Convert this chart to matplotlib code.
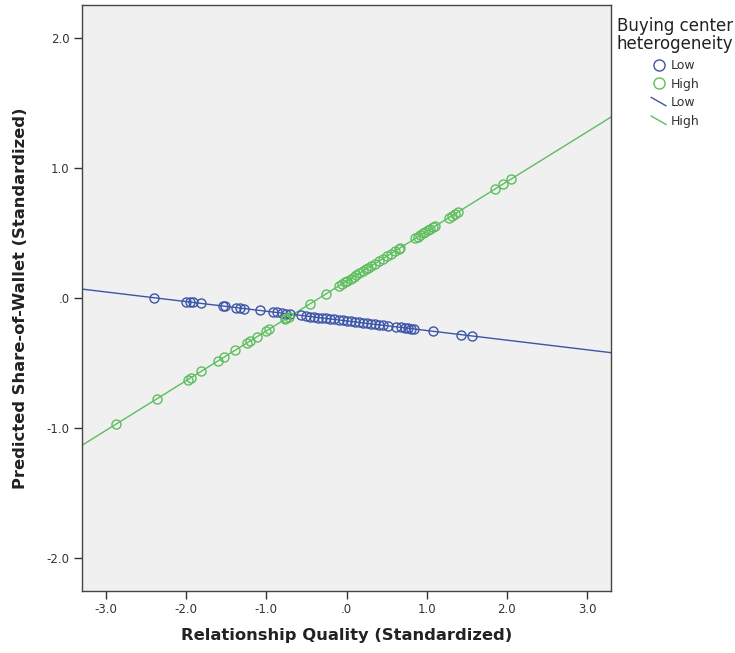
import numpy as np
import matplotlib
matplotlib.use("Agg")
import matplotlib.pyplot as plt
from matplotlib.lines import Line2D
from matplotlib.legend_handler import HandlerBase

# --- data ---
groups = ["Low", "High"]
colors = {"Low": "#3D55A8", "High": "#5DBE5D"}

# fit lines (predicted values lie on them)
fit_intercept = {"Low": -0.175, "High": 0.13}
fit_slope = {"Low": -0.074, "High": 0.382}

low_x = [-2.40, -2.00, -1.95, -1.91, -1.81, -1.54, -1.52, -1.38, -1.33, -1.28,
         -1.08, -0.92, -0.87, -0.81, -0.75, -0.71, -0.57, -0.51, -0.45, -0.40,
         -0.35, -0.30, -0.25, -0.20, -0.15, -0.10, -0.05, 0.00, 0.05, 0.10,
         0.15, 0.20, 0.25, 0.30, 0.35, 0.40, 0.46, 0.52, 0.62, 0.68, 0.73,
         0.77, 0.81, 0.84, 1.08, 1.43, 1.57]
high_x = [-2.87, -2.36, -1.98, -1.94, -1.81, -1.60, -1.53, -1.39, -1.24, -1.20,
          -1.12, -1.01, -0.97, -0.77, -0.75, -0.72, -0.45, -0.26, -0.10, -0.06,
          -0.02, 0.01, 0.05, 0.09, 0.12, 0.16, 0.20, 0.24, 0.27, 0.31, 0.35,
          0.40, 0.45, 0.50, 0.55, 0.60, 0.65, 0.67, 0.86, 0.89, 0.92, 0.96,
          0.98, 1.02, 1.04, 1.08, 1.11, 1.28, 1.32, 1.35, 1.39, 1.85, 1.95, 2.05]
points_x = {"Low": low_x, "High": high_x}

x_ticks = [-3, -2, -1, 0, 1, 2, 3]
y_ticks = [-2, -1, 0, 1, 2]


def fmt(v):
    if v == 0:
        return ".0"
    return f"{v:.1f}"


class DiagHandler(HandlerBase):
    # SPSS draws line entries as a small slanted stroke
    def create_artists(self, legend, orig_handle, xdescent, ydescent,
                       width, height, fontsize, trans):
        x0 = -xdescent + width * 0.05
        x1 = -xdescent + width * 0.95
        ln = Line2D([x0, x1], [-ydescent + height * 1.0, -ydescent + height * 0.05],
                    color=orig_handle.get_color(), lw=1)
        ln.set_transform(trans)
        return [ln]


fig = plt.figure(figsize=(7.35, 6.53), dpi=100, facecolor="white")
ax = fig.add_axes([0.1116, 0.095, 0.7197, 0.897])
ax.set_facecolor("#F0F0F0")

xlim = (-3.3, 3.3)
line_x = np.array(xlim)
for g in groups:
    ax.plot(line_x, fit_intercept[g] + fit_slope[g] * line_x,
            color=colors[g], lw=1, zorder=2)
    px = np.array(points_x[g])
    ax.plot(px, fit_intercept[g] + fit_slope[g] * px, ls="none", marker="o",
            ms=6.5, mfc="none", mec=colors[g], mew=1, zorder=3)

ax.set_xlim(*xlim)
ax.set_ylim(-2.25, 2.25)
ax.set_xticks(x_ticks)
ax.set_xticklabels([fmt(v) for v in x_ticks])
ax.set_yticks(y_ticks)
ax.set_yticklabels([fmt(v) for v in y_ticks])
ax.tick_params(direction="out", length=6, width=1, color="#333333",
               labelsize=8.5, labelcolor="#333333", pad=3)
for s in ax.spines.values():
    s.set_color("#444444")
    s.set_linewidth(1)

ax.set_xlabel("Relationship Quality (Standardized)", fontsize=11.8,
              fontweight="bold", color="#222222", labelpad=8)
ax.set_ylabel("Predicted Share-of-Wallet (Standardized)", fontsize=11.8,
              fontweight="bold", color="#222222", labelpad=13)

marker_handles = [Line2D([], [], ls="none", marker="o", ms=8, mfc="none",
                         mec=colors[g], mew=1) for g in groups]
line_handles = [Line2D([], [], color=colors[g], lw=1) for g in groups]
handles = marker_handles + line_handles
labels = groups + groups

leg = fig.legend(handles, labels, loc="upper left", bbox_to_anchor=(0.829, 0.985),
                 frameon=False, fontsize=9, title="Buying center\nheterogeneity",
                 title_fontsize=12, handlelength=1.3, handletextpad=0.35,
                 labelspacing=0.45, borderpad=0.1,
                 handler_map={h: DiagHandler() for h in line_handles})
leg.get_title().set_multialignment("left")
leg.get_title().set_color("#222222")
leg.get_title().set_linespacing(1.0)
for t in leg.get_texts():
    t.set_color("#333333")

fig.savefig("out.png", dpi=100, facecolor="white")
